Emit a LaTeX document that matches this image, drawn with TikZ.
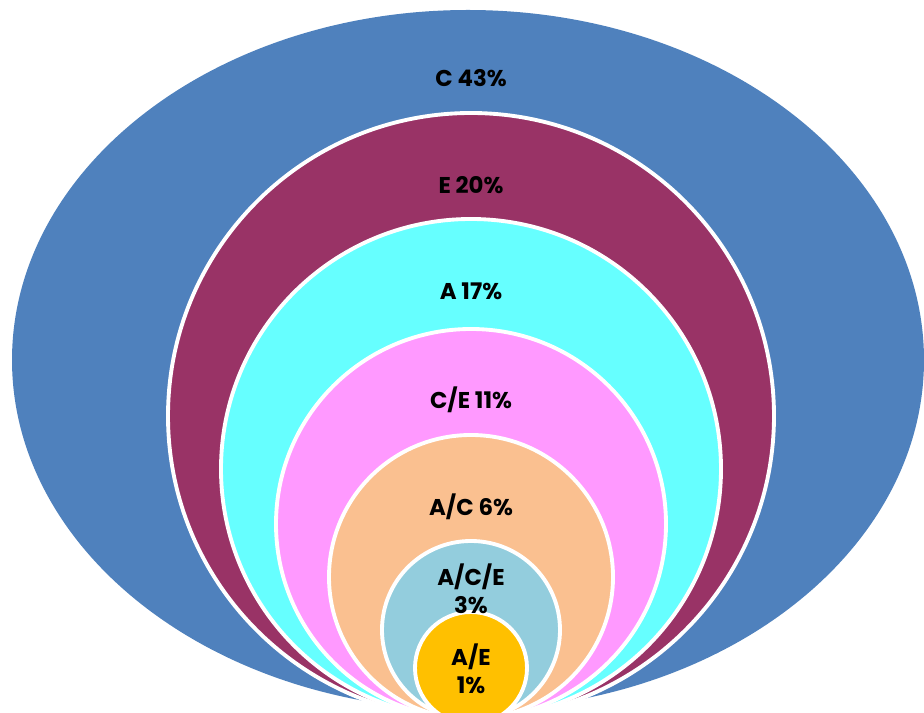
\documentclass[tikz,border=0pt]{standalone}
\usepackage{fontspec}
\setmainfont{Poppins}
\usetikzlibrary{calc}
\definecolor{ringC}{HTML}{4F81BD}
\definecolor{ringE}{HTML}{993366}
\definecolor{ringA}{HTML}{66FFFF}
\definecolor{ringCE}{HTML}{FF99FF}
\definecolor{ringAC}{HTML}{FAC090}
\definecolor{ringACE}{HTML}{93CDDD}
\definecolor{ringAE}{HTML}{FFC000}
\colorlet{rim}{white}
\newcommand\picwidth{924}
\newcommand\picheight{713}
\newcommand\rimwidth{2.2pt}

\begin{document}
\begin{tikzpicture}[x=0.02cm, y=0.02cm]
    \useasboundingbox (0, 0) rectangle (\picwidth, \picheight);
    \clip (0, 0) rectangle (\picwidth, \picheight);

    \tikzset{
        ring/.style={
            draw=rim, line width=\rimwidth,
        },
        share/.style={
            font=\bfseries\fontsize{13}{16}\selectfont,
            align=center, inner sep=0pt,
        },
    }

    % Outer ellipse
    \coordinate (outer-c) at (468, 353);
    \fill[ringC] (outer-c) ellipse [x radius=456, y radius=350];

    % Rings, all resting on the bottom
    \coordinate (touch) at (471, -6);
    \foreach \r/\c in {303/ringE, 250/ringA, 195/ringCE, 142/ringAC, 89/ringACE}
        \draw[ring, fill=\c] ($(touch)+(0, \r)$) circle [radius=\r];
    \draw[ring, fill=ringAE] (471, 45) circle [radius=56];

    % Labels
    \node[share] (c-share) at (471, 635) {C 43\%};
    \node[share] (e-share) at (471, 528) {E 20\%};
    \node[share] (a-share) at (471, 422) {A 17\%};
    \node[share] (ce-share) at (471, 313) {C/E 11\%};
    \node[share] (ac-share) at (471, 206) {A/C 6\%};
    \node[share] (ace-share) at (471, 124) {A/C/E\\3\%};
    \node[share] (ae-share) at (471, 44) {A/E\\1\%};
\end{tikzpicture}
\end{document}
